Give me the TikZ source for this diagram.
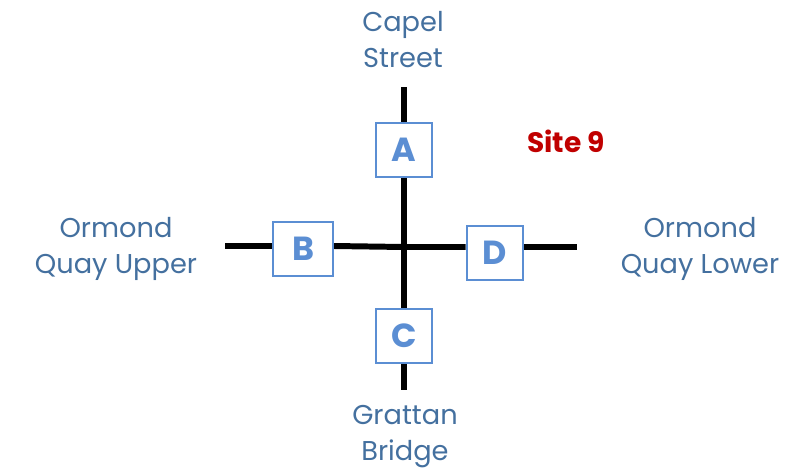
\documentclass[tikz,border=0pt]{standalone}
\usepackage{fontspec}
\setmainfont{Poppins}
\usepackage{xcolor}
\definecolor{streetblue}{HTML}{44709F}
\definecolor{boxblue}{HTML}{5B8ED3}
\definecolor{sitered}{HTML}{C00000}
\tikzset{
  street/.style={text=streetblue, align=center, font=\fontsize{15.5}{20.5}\selectfont},
  siteletter/.style={draw=boxblue, line width=1.4pt, fill=white, text=boxblue, minimum width=32pt, minimum height=30.5pt, inner sep=0pt, font=\fontsize{19}{22}\selectfont\bfseries},
  road/.style={line width=3.4pt, black}
}
\begin{document}
\begin{tikzpicture}[x=0.02cm, y=-0.02cm]
\useasboundingbox (0,0) rectangle (791,471);
% street names
\node [street] (capel) at (403,40) {Capel\\Street};
\node [street] (grattan) at (405,437) {Grattan\\Bridge};
\node [street] (upper) at (116,249) {Ormond\\Quay Upper};
\node [street] (lower) at (700,249) {Ormond\\Quay Lower};
\node [text=sitered, font=\fontsize{16}{20}\selectfont\bfseries] (site) at (566,141) {Site 9};
% road ends and junction
\coordinate (capelEnd) at (404,87);
\coordinate (grattanEnd) at (404,390);
\coordinate (upperEnd) at (225,246);
\coordinate (lowerEnd) at (577,247);
\coordinate (junction) at (404,247);
% sites
\node [siteletter] (A) at (404,150) {A};
\node [siteletter, minimum width=34pt] (B) at (303,249) {B};
\node [siteletter] (C) at (404,336) {C};
\node [siteletter] (D) at (495,253) {D};
% roads
\draw [road] (capelEnd) -- (A.north);
\draw [road] (A.south) -- (C.north);
\draw [road] (C.south) -- (grattanEnd);
\draw [road] (upperEnd) -- (upperEnd -| B.west);
\draw [road] (upperEnd -| B.east) -- (junction) -- (junction -| D.west);
\draw [road] (lowerEnd -| D.east) -- (lowerEnd);
\end{tikzpicture}
\end{document}
